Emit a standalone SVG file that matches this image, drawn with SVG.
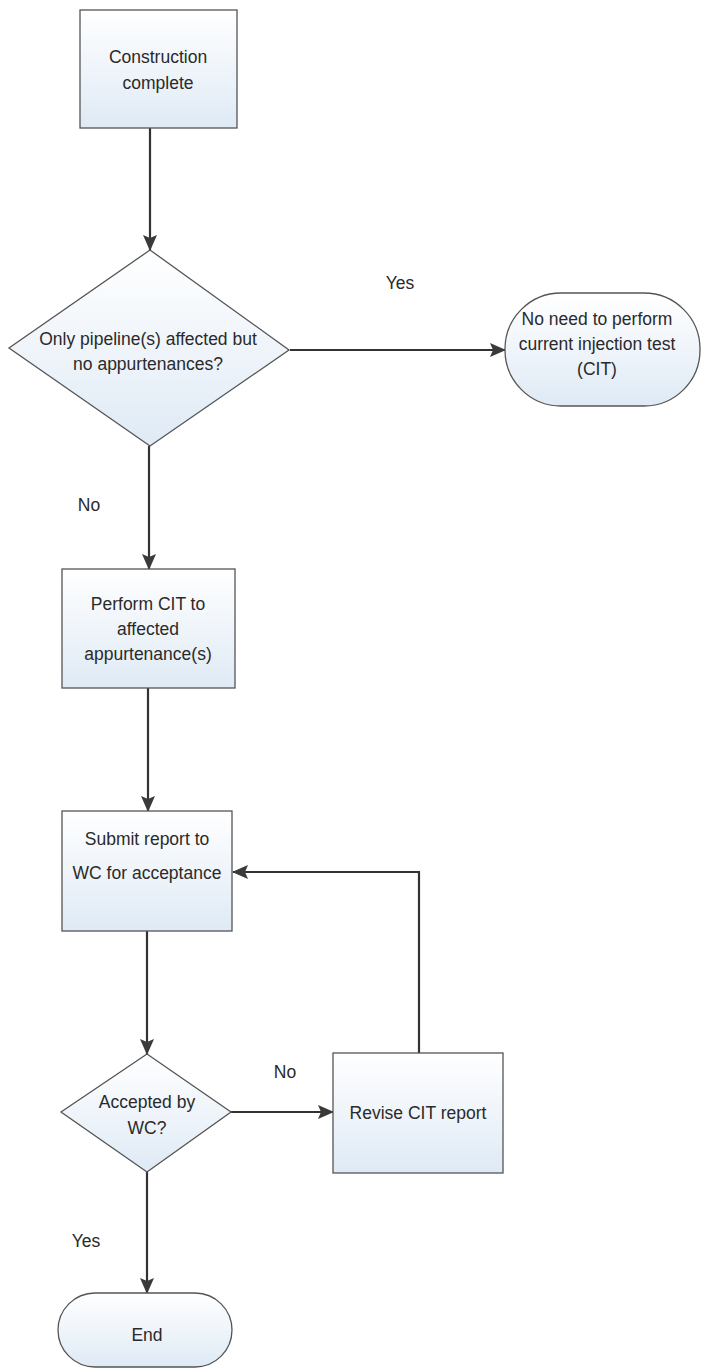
<svg xmlns="http://www.w3.org/2000/svg" width="702" height="1372" viewBox="0 0 702 1372">
<defs>
<linearGradient id="fill" x1="0" y1="0" x2="0" y2="1">
<stop offset="0" stop-color="#ffffff"/>
<stop offset="1" stop-color="#dfeaf5"/>
</linearGradient>
<marker id="arr" viewBox="0 0 16 14" refX="15" refY="7" markerWidth="16" markerHeight="14" markerUnits="userSpaceOnUse" orient="auto">
<path d="M0,0 L16,7 L0,14 L3,7 Z" fill="#3a3a3a"/>
</marker>
<style>
.shape{fill:url(#fill);stroke:#555;stroke-width:1.3}
.t{font-family:"Liberation Sans",Arial,sans-serif;font-size:17.5px;fill:#2a2a2a;text-anchor:middle}
.c{fill:none;stroke:#333;stroke-width:2.2}
</style>
</defs>
<rect width="702" height="1372" fill="#ffffff"/>
<g id="connectors">
<line class="c" x1="150" y1="128" x2="150" y2="250" marker-end="url(#arr)"/>
<line class="c" x1="290" y1="350" x2="505" y2="350" marker-end="url(#arr)"/>
<line class="c" x1="149" y1="446" x2="149" y2="569" marker-end="url(#arr)"/>
<line class="c" x1="148" y1="688" x2="148" y2="811" marker-end="url(#arr)"/>
<line class="c" x1="147" y1="931" x2="147" y2="1054" marker-end="url(#arr)"/>
<line class="c" x1="231" y1="1112" x2="333" y2="1112" marker-end="url(#arr)"/>
<polyline class="c" points="419,1053 419,872 233,872" marker-end="url(#arr)"/>
<line class="c" x1="147" y1="1172" x2="147" y2="1293" marker-end="url(#arr)"/>
<text class="t" x="400" y="289">Yes</text>
<text class="t" x="89" y="511">No</text>
<text class="t" x="285" y="1078">No</text>
<text class="t" x="86" y="1247">Yes</text>
</g>
<g id="n1">
<rect class="shape" x="80" y="10" width="157" height="118"/>
<text class="t" x="158" y="63">Construction</text>
<text class="t" x="158" y="89">complete</text>
</g>
<g id="n2">
<polygon class="shape" points="150,250 289,350 150,446 9,348"/>
<text class="t" x="148" y="345">Only pipeline(s) affected but</text>
<text class="t" x="148" y="370">no appurtenances?</text>
</g>
<g id="n3">
<rect class="shape" x="505" y="293" width="195" height="113" rx="56" ry="56"/>
<text class="t" x="597" y="325">No need to perform</text>
<text class="t" x="597" y="350">current injection test</text>
<text class="t" x="597" y="375">(CIT)</text>
</g>
<g id="n4">
<rect class="shape" x="62" y="569" width="173" height="119"/>
<text class="t" x="148" y="610">Perform CIT to</text>
<text class="t" x="148" y="635">affected</text>
<text class="t" x="148" y="660">appurtenance(s)</text>
</g>
<g id="n5">
<rect class="shape" x="62" y="811" width="170" height="120"/>
<text class="t" x="147" y="845">Submit report to</text>
<text class="t" x="147" y="879">WC for acceptance</text>
</g>
<g id="n6">
<polygon class="shape" points="147,1054 231,1112 147,1172 61,1112"/>
<text class="t" x="147" y="1108">Accepted by</text>
<text class="t" x="147" y="1134">WC?</text>
</g>
<g id="n7">
<rect class="shape" x="333" y="1053" width="170" height="120"/>
<text class="t" x="418" y="1119">Revise CIT report</text>
</g>
<g id="n8">
<rect class="shape" x="58" y="1293" width="174" height="74" rx="37" ry="37"/>
<text class="t" x="147" y="1341">End</text>
</g>
</svg>
